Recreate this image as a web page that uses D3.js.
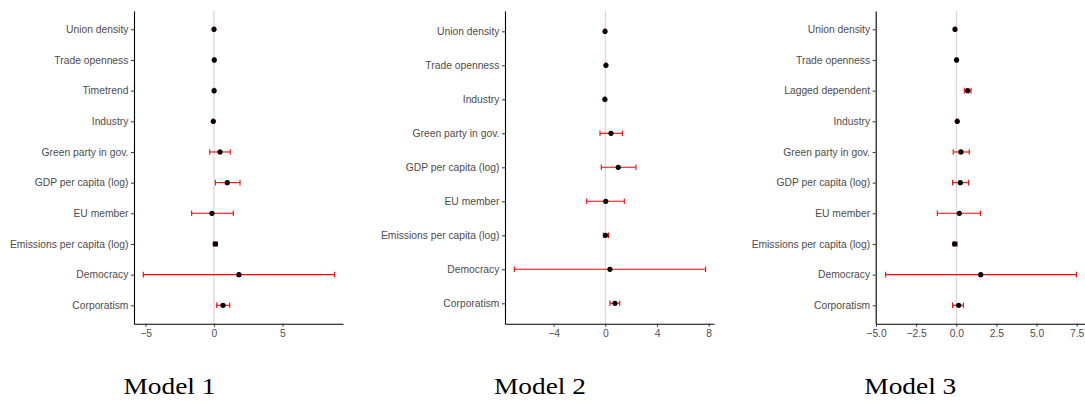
<!DOCTYPE html>
<html>
<head>
<meta charset="utf-8">
<script src="https://cdn.jsdelivr.net/npm/d3@7"></script>
<style>
  html, body { margin: 0; padding: 0; background: #ffffff; }
  svg { display: block; }
</style>
</head>
<body>
<svg id="chart" width="1085" height="401"></svg>
<script>
// Coefficient estimates with lower / upper interval bounds, one set per model.
const model1Terms = ["Union density", "Trade openness", "Timetrend", "Industry", "Green party in gov.",
  "GDP per capita (log)", "EU member", "Emissions per capita (log)", "Democracy", "Corporatism"];
const model1Est  = [0.00, 0.02, 0.01, -0.05, 0.44, 0.97, -0.15, 0.10, 1.82, 0.66];
const model1Low  = [-0.05, -0.02, -0.02, -0.09, -0.31, 0.10, -1.63, -0.05, -5.16, 0.20];
const model1High = [0.05, 0.06, 0.04, -0.01, 1.19, 1.90, 1.41, 0.25, 8.81, 1.15];
const model1Ticks = [-5, 0, 5];

const model2Terms = ["Union density", "Trade openness", "Industry", "Green party in gov.",
  "GDP per capita (log)", "EU member", "Emissions per capita (log)", "Democracy", "Corporatism"];
const model2Est  = [-0.02, 0.05, -0.03, 0.44, 1.00, 0.03, 0.02, 0.36, 0.75];
const model2Low  = [-0.07, 0.01, -0.08, -0.41, -0.31, -1.44, -0.15, -7.04, 0.36];
const model2High = [0.03, 0.09, 0.02, 1.32, 2.37, 1.47, 0.25, 7.76, 1.11];
const model2Ticks = [-4, 0, 4, 8];

const model3Terms = ["Union density", "Trade openness", "Lagged dependent", "Industry", "Green party in gov.",
  "GDP per capita (log)", "EU member", "Emissions per capita (log)", "Democracy", "Corporatism"];
const model3Est  = [-0.08, 0.02, 0.71, 0.06, 0.29, 0.25, 0.19, -0.10, 1.52, 0.15];
const model3Low  = [-0.12, -0.02, 0.50, 0.02, -0.19, -0.23, -1.18, -0.20, -4.40, -0.23];
const model3High = [-0.04, 0.06, 0.92, 0.10, 0.81, 0.77, 1.50, 0.05, 7.48, 0.44];
const model3Ticks = [-5, -2.5, 0, 2.5, 5, 7.5];

const titles = ["Model 1", "Model 2", "Model 3"];

// Panel geometry
const panels = [
  { terms: model1Terms, est: model1Est, lo: model1Low, hi: model1High, ticks: model1Ticks,
    fmt: d3.format("d"), left: 134, right: 343, xdom: [-5.84, 9.42], titleX: 169.5 },
  { terms: model2Terms, est: model2Est, lo: model2Low, hi: model2High, ticks: model2Ticks,
    fmt: d3.format("d"), left: 505, right: 714, xdom: [-7.76, 8.41], titleX: 540 },
  { terms: model3Terms, est: model3Est, lo: model3Low, hi: model3High, ticks: model3Ticks,
    fmt: d3.format(".1f"), left: 875.7, right: 1084.7, xdom: [-5.02, 8.0], titleX: 910.3 }
];
const plotTop = 10.9, plotBottom = 323.7;

const svg = d3.select("#chart");
const sans = "'Liberation Sans', Arial, Helvetica, sans-serif";

panels.forEach((p, i) => {
  const x = d3.scaleLinear().domain(p.xdom).range([p.left, p.right]);
  const y = d3.scalePoint().domain(p.terms).range([plotTop, plotBottom]).padding(0.6);
  const g = svg.append("g");

  // reference line at zero
  g.append("line")
    .attr("x1", x(0)).attr("x2", x(0))
    .attr("y1", plotTop).attr("y2", plotBottom)
    .attr("stroke", "#cfcfcf").attr("stroke-width", 1);

  const rows = p.terms.map((t, k) => ({ term: t, est: p.est[k], lo: p.lo[k], hi: p.hi[k] }));

  // interval bars with caps
  const eb = g.append("g").attr("stroke", "#ff0000").attr("stroke-width", 1.1).attr("fill", "none");
  rows.forEach(r => {
    const yy = y(r.term);
    eb.append("line").attr("x1", x(r.lo)).attr("x2", x(r.hi)).attr("y1", yy).attr("y2", yy);
    eb.append("line").attr("x1", x(r.lo)).attr("x2", x(r.lo)).attr("y1", yy - 2.8).attr("y2", yy + 2.8);
    eb.append("line").attr("x1", x(r.hi)).attr("x2", x(r.hi)).attr("y1", yy - 2.8).attr("y2", yy + 2.8);
  });

  // point estimates
  g.append("g").selectAll("circle").data(rows).join("circle")
    .attr("cx", d => x(d.est)).attr("cy", d => y(d.term))
    .attr("r", 2.6).attr("fill", "#000000");

  // y axis
  const ya = g.append("g").attr("transform", `translate(${p.left},0)`)
    .call(d3.axisLeft(y).tickSize(3).tickSizeOuter(0).tickPadding(2.6));
  // x axis
  const xa = g.append("g").attr("transform", `translate(0,${plotBottom})`)
    .call(d3.axisBottom(x).tickValues(p.ticks).tickFormat(p.fmt).tickSize(3).tickSizeOuter(0).tickPadding(2.6));

  [ya, xa].forEach(a => {
    a.select(".domain").attr("stroke", "#000000").attr("stroke-width", 1.1);
    a.selectAll(".tick line").attr("stroke", "#333333").attr("stroke-width", 1);
    a.selectAll(".tick text").attr("fill", "#4d4d4d")
      .style("font-family", sans).style("font-size", "10.3px");
  });

  // model title
  svg.append("text")
    .attr("x", p.titleX).attr("y", 394)
    .attr("text-anchor", "middle")
    .attr("textLength", 92).attr("lengthAdjust", "spacingAndGlyphs")
    .style("font-family", "'Liberation Serif', 'Times New Roman', serif")
    .style("font-size", "23.5px")
    .attr("fill", "#000000")
    .text(titles[i]);
});
</script>
</body>
</html>
